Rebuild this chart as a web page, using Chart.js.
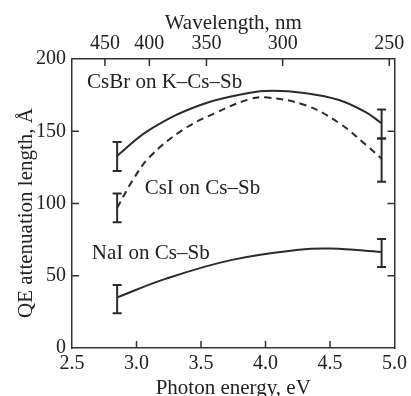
<!DOCTYPE html>
<html>
<head>
<meta charset="utf-8">
<script src="https://cdn.jsdelivr.net/npm/chart.js@4.4.1/dist/chart.umd.min.js"></script>
<style>
html, body { margin: 0; padding: 0; background: #fff; }
#wrap { width: 411px; height: 396px; }
</style>
</head>
<body>
<div id="wrap"><canvas id="qe"></canvas></div>
<script>
// CsBr on K-Cs-Sb (solid)
var brEnergy = [2.85, 3.10, 3.49, 3.87, 4.05, 4.30, 4.57, 4.78, 4.90];
var brLength = [133, 151, 168, 176.5, 178, 176.5, 171.6, 163, 155.5];
// CsI on Cs-Sb (dashed)
var csiEnergy = [2.85, 2.97, 3.10, 3.36, 3.62, 3.87, 4.00, 4.31, 4.57, 4.78, 4.90];
var csiLength = [97, 116, 132, 151, 163, 172, 173.5, 168, 155.7, 140.5, 131];
// NaI on Cs-Sb (solid)
var naiEnergy = [2.85, 3.23, 3.74, 4.26, 4.51, 4.90];
var naiLength = [35, 48, 61, 68, 68.8, 66.5];

// error bars at both ends
var barEnergy = [2.85, 4.90];
var brLow = [122.5, 145], brHigh = [142.6, 165];
var csiLow = [87, 115], csiHigh = [107, 145];
var naiLow = [24, 56], naiHigh = [43.6, 75.4];

var energyTicks = [2.5, 3.0, 3.5, 4.0, 4.5, 5.0];
var lengthTicks = [0, 50, 100, 150, 200];
var wavelengthTicks = [450, 400, 350, 300, 250];

var HC = 1239.84; // eV*nm
var ink = '#2b2b2b';
var serif = "'Liberation Serif', 'Times New Roman', serif";

function toPoints(xs, ys) {
    var pts = [];
    for (var i = 0; i < xs.length; i++) pts.push({x: xs[i], y: ys[i]});
    return pts;
}

function errorSet(lo, hi) {
    var pts = [];
    for (var i = 0; i < barEnergy.length; i++) {
        pts.push({x: barEnergy[i], y: lo[i]});
        pts.push({x: barEnergy[i], y: hi[i]});
        pts.push({x: barEnergy[i], y: null});
    }
    return {
        data: pts,
        borderColor: ink,
        borderWidth: 2,
        pointStyle: 'line',
        pointRadius: 4.5,
        pointBorderWidth: 2,
        pointBorderColor: ink,
        spanGaps: false,
        tension: 0
    };
}

function curve(xs, ys, dash) {
    return {
        data: toPoints(xs, ys),
        borderColor: ink,
        borderWidth: 2,
        borderDash: dash,
        pointRadius: 0,
        tension: 0.4
    };
}

// 안쪽 눈금, 축 제목, 곡선 이름
var decor = {
    id: 'decor',
    afterDraw: function(chart) {
        var ctx = chart.ctx, a = chart.chartArea, s = chart.scales;
        var len = 7;
        ctx.save();
        ctx.strokeStyle = '#333';
        ctx.lineWidth = 1.5;
        ctx.beginPath();
        energyTicks.forEach(function(v) {
            if (v <= 2.5 || v >= 5.0) return;
            var px = s.x.getPixelForValue(v);
            ctx.moveTo(px, a.bottom); ctx.lineTo(px, a.bottom - len);
        });
        wavelengthTicks.forEach(function(w) {
            var px = s.x2.getPixelForValue(HC / w);
            ctx.moveTo(px, a.top); ctx.lineTo(px, a.top + len);
        });
        lengthTicks.forEach(function(v) {
            if (v <= 0 || v >= 200) return;
            var py = s.y.getPixelForValue(v);
            ctx.moveTo(a.left, py); ctx.lineTo(a.left + len, py);
            ctx.moveTo(a.right, py); ctx.lineTo(a.right - len, py);
        });
        ctx.stroke();

        ctx.fillStyle = '#222';
        ctx.font = '21px ' + serif;
        ctx.textAlign = 'center';
        ctx.textBaseline = 'alphabetic';
        ctx.fillText('Photon energy, eV', (a.left + a.right) / 2, 394);
        ctx.fillText('Wavelength, nm', (a.left + a.right) / 2, 29);

        ctx.save();
        ctx.translate(26, 213);
        ctx.rotate(-Math.PI / 2);
        ctx.textBaseline = 'middle';
        ctx.fillText('QE attenuation length, \u00C5', 0, 0);
        ctx.restore();

        ctx.textAlign = 'left';
        ctx.textBaseline = 'middle';
        ctx.fillText('CsBr on K\u2013Cs\u2013Sb', s.x.getPixelForValue(2.616), s.y.getPixelForValue(184));
        ctx.fillText('CsI on Cs\u2013Sb', s.x.getPixelForValue(3.063), s.y.getPixelForValue(110.7));
        ctx.fillText('NaI on Cs\u2013Sb', s.x.getPixelForValue(2.654), s.y.getPixelForValue(65.7));
        ctx.restore();
    }
};

var border = {display: true, color: '#333', width: 1.5};

new Chart(document.getElementById('qe').getContext('2d'), {
    type: 'line',
    data: {
        datasets: [
            curve(brEnergy, brLength, []),
            curve(csiEnergy, csiLength, [7, 5]),
            curve(naiEnergy, naiLength, []),
            errorSet(brLow, brHigh),
            errorSet(csiLow, csiHigh),
            errorSet(naiLow, naiHigh)
        ]
    },
    options: {
        responsive: true,
        maintainAspectRatio: false,
        animation: false,
        layout: {padding: 0},
        plugins: {
            legend: {display: false},
            tooltip: {enabled: false}
        },
        scales: {
            x: {
                type: 'linear', position: 'bottom', min: 2.5, max: 5.0,
                afterFit: function(sc) { sc.height = 48; },
                afterBuildTicks: function(sc) { sc.ticks = energyTicks.map(function(v) { return {value: v}; }); },
                grid: {display: false, drawTicks: false},
                border: border,
                ticks: {
                    autoSkip: false, maxRotation: 0, padding: 4, color: '#222',
                    font: {family: serif, size: 20},
                    callback: function(v) { return Number(v).toFixed(1); }
                }
            },
            x2: {
                type: 'linear', position: 'top', min: 2.5, max: 5.0,
                afterFit: function(sc) { sc.height = 59; },
                afterBuildTicks: function(sc) { sc.ticks = wavelengthTicks.map(function(w) { return {value: HC / w}; }); },
                grid: {display: false, drawTicks: false},
                border: border,
                ticks: {
                    autoSkip: false, maxRotation: 0, padding: 3, color: '#222',
                    font: {family: serif, size: 20},
                    callback: function(v) { return String(Math.round(HC / v)); }
                }
            },
            y: {
                type: 'linear', position: 'left', min: 0, max: 200,
                afterFit: function(sc) { sc.width = 72; },
                afterBuildTicks: function(sc) { sc.ticks = lengthTicks.map(function(v) { return {value: v}; }); },
                grid: {display: false, drawTicks: false},
                border: border,
                ticks: {
                    autoSkip: false, padding: 6, color: '#222',
                    font: {family: serif, size: 20}
                }
            },
            y2: {
                type: 'linear', position: 'right', min: 0, max: 200,
                afterFit: function(sc) { sc.width = 15; },
                grid: {display: false, drawTicks: false},
                border: border,
                ticks: {display: false}
            }
        }
    },
    plugins: [decor]
});
</script>
</body>
</html>
